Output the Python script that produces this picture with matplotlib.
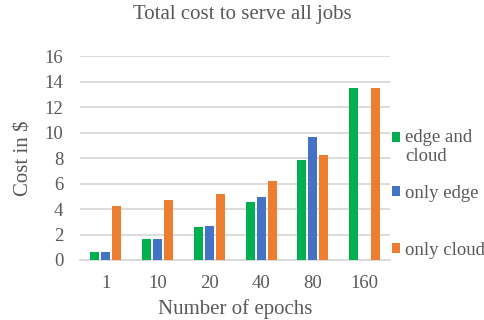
import numpy as np
import matplotlib.pyplot as plt
from matplotlib.legend import Legend

plt.rcParams['font.family'] = ['Liberation Serif', 'DejaVu Serif']

epochs = ['1', '10', '20', '40', '80', '160']
edge_and_cloud = [0.63, 1.63, 2.57, 4.59, 7.87, 13.55]
only_edge = [0.63, 1.63, 2.65, 4.96, 9.66, np.nan]
only_cloud = [4.25, 4.72, 5.20, 6.25, 8.29, 13.55]

series = [
    ('edge and\ncloud', edge_and_cloud, '#00B050'),
    ('only edge', only_edge, '#4472C4'),
    ('only cloud', only_cloud, '#ED7D31'),
]

text_color = '#595959'
grid_color = '#D9D9D9'

fig = plt.figure(figsize=(4.85, 3.2), dpi=100)
ax = fig.add_axes([0.165, 0.1875, 0.64, 0.636])

x = np.arange(len(epochs))
width = 0.175
step = 0.213
bars = []
for i, (label, vals, c) in enumerate(series):
    bars.append(ax.bar(x + (i - 1) * step, vals, width, color=c, label=label, zorder=3))

ax.set_xlim(-0.5, len(epochs) - 0.5)
ax.set_ylim(0, 16)
ax.set_yticks(np.arange(0, 17, 2))
ax.set_xticks(x)
ax.set_xticklabels(epochs)
ax.tick_params(length=0, labelsize=13.5, colors=text_color)
ax.tick_params(axis='x', pad=11)
ax.tick_params(axis='y', pad=12)
ax.grid(axis='y', color=grid_color, linewidth=1.3, zorder=0)
for s in ['top', 'right', 'left']:
    ax.spines[s].set_visible(False)
ax.spines['bottom'].set_color(grid_color)
ax.spines['bottom'].set_linewidth(1.3)

ax.set_xlabel('Number of epochs', fontsize=15, color=text_color, labelpad=5)
ax.set_ylabel('Cost in \\$', fontsize=15, color=text_color, labelpad=8)
fig.suptitle('Total cost to serve all jobs', fontsize=15, color=text_color, x=0.5, y=0.985)

# one legend per entry so the spacing matches the spread-out original
leg_y = [0.555, 0.329, 0.047]
for (label, vals, c), b, yy in zip(series, bars, leg_y):
    leg = Legend(ax, [b], [label], loc='center left', bbox_to_anchor=(1.005, yy),
                 frameon=False, fontsize=13.5, handlelength=0.42, handleheight=0.42,
                 handletextpad=0.3, borderaxespad=0.0, borderpad=0.0)
    for t in leg.get_texts():
        t.set_color(text_color)
    if '\n' in label:
        # marker sits next to the first line of the label
        h = leg.legend_handles[0]
        h.set_y(h.get_y() + 7.2)
    ax.add_artist(leg)

fig.savefig('out.png', dpi=100)
